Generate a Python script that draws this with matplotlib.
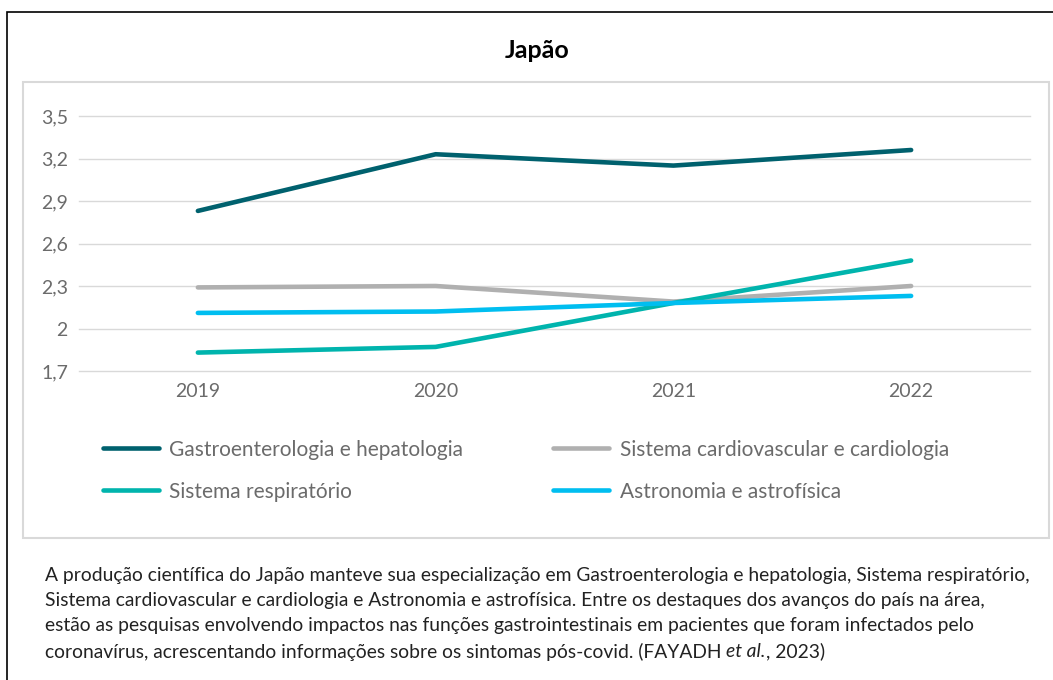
import matplotlib
matplotlib.use("Agg")
import matplotlib.pyplot as plt
from matplotlib.patches import Rectangle

# Data
years = ["2019", "2020", "2021", "2022"]
gastro = [2.83, 3.23, 3.15, 3.26]
cardio = [2.29, 2.30, 2.19, 2.30]
respir = [1.83, 1.87, 2.18, 2.48]
astro = [2.11, 2.12, 2.18, 2.23]
series_names = ["Gastroenterologia e hepatologia", "Sistema cardiovascular e cardiologia",
                "Sistema respiratório", "Astronomia e astrofísica"]
yticks = [1.7, 2.0, 2.3, 2.6, 2.9, 3.2, 3.5]
ytick_labels = ["1,7", "2", "2,3", "2,6", "2,9", "3,2", "3,5"]

caption_lines = [
    "A produção científica do Japão manteve sua especialização em Gastroenterologia e hepatologia, Sistema respiratório,",
    "Sistema cardiovascular e cardiologia e Astronomia e astrofísica. Entre os destaques dos avanços do país na área,",
    "estão as pesquisas envolvendo impactos nas funções gastrointestinais em pacientes que foram infectados pelo",
    "coronavírus, acrescentando informações sobre os sintomas pós-covid. (FAYADH ",
]

plt.rcParams['font.family'] = ['Lato', 'DejaVu Sans']

W, H = 1053, 680
fig = plt.figure(figsize=(W / 100, H / 100), dpi=100)

# outer frame and chart box (figure pixel coords)
def px_rect(x0, y0, x1, y1, **kw):
    r = Rectangle((x0 / W, 1 - y1 / H), (x1 - x0) / W, (y1 - y0) / H,
                  transform=fig.transFigure, fill=False, **kw)
    fig.patches.append(r)

px_rect(7, 12, 1060, 700, edgecolor="black", linewidth=1.2)
px_rect(23, 82, 1049, 538, edgecolor="#d9d9d9", linewidth=1.5)

ax = fig.add_axes([79 / W, 1 - 371 / H, (1030 - 79) / W, (371 - 116) / H])
x = range(len(years))
colors = ["#00616e", "#b0b0b0", "#00b4ad", "#00bef0"]
data = [gastro, cardio, respir, astro]
lines = []
for vals, c, name in zip(data, colors, series_names):
    ln, = ax.plot(x, vals, color=c, linewidth=3.3, solid_capstyle="round", label=name)
    lines.append(ln)

ax.set_xlim(-0.5, 3.5)
ax.set_ylim(1.7, 3.5)
ax.set_yticks(yticks)
ax.set_yticklabels(ytick_labels)
ax.set_xticks(list(x))
ax.set_xticklabels(years)
for gl in ax.get_ygridlines():
    gl.set_clip_on(False)
ax.grid(axis="y", color="#d9d9d9", linewidth=1)
ax.set_axisbelow(True)
for s in ax.spines.values():
    s.set_visible(False)
ax.tick_params(length=0, labelsize=14, labelcolor="#6b6b6b")
ax.tick_params(axis="y", pad=8)
ax.tick_params(axis="x", pad=9)

fig.text(537 / W, 1 - 50 / H, "Japão", ha="center", va="center",
         fontsize=18, fontweight="bold", color="black")

# legend in two columns: row order gastro, respir / cardio, astro
leg = fig.legend([lines[0], lines[2], lines[1], lines[3]],
                 [series_names[0], series_names[2], series_names[1], series_names[3]],
                 ncol=2, loc="upper left", bbox_to_anchor=(84 / W, 1 - 421 / H),
                 frameon=False, fontsize=15, labelcolor="#6b6b6b",
                 handlelength=2.7, handletextpad=0.5, columnspacing=4.3,
                 labelspacing=1.05)

# caption, size chosen so the first line spans the text width
cap_font = ["Lato", "DejaVu Sans"]
probe = fig.text(0, 0, caption_lines[0], fontsize=13, family=cap_font)
fig.canvas.draw()
w0 = probe.get_window_extent().width
probe.remove()
cap_size = 13 * (1030 - 45) / w0

for i, line in enumerate(caption_lines):
    t = fig.text(45 / W, 1 - (575 + i * 25.5) / H, line, ha="left", va="center",
                 fontsize=cap_size, color="#222222", family=cap_font)
fig.canvas.draw()
bb = t.get_window_extent()
t2 = fig.text(bb.x1 / W, 1 - (575 + 3 * 25.5) / H, "et al.", ha="left", va="center",
              fontsize=cap_size, color="#222222", style="italic", family=cap_font)
fig.canvas.draw()
bb2 = t2.get_window_extent()
fig.text(bb2.x1 / W, 1 - (575 + 3 * 25.5) / H, ", 2023)", ha="left", va="center",
         fontsize=cap_size, color="#222222", family=cap_font)

fig.savefig("out.png", dpi=100)
